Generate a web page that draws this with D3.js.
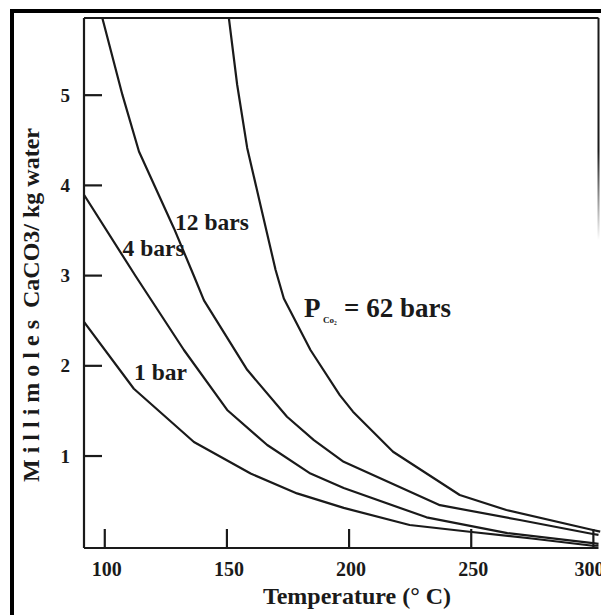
<!DOCTYPE html>
<html>
<head>
<meta charset="utf-8">
<script src="https://cdn.jsdelivr.net/npm/d3@7"></script>
<style>
  html, body { margin: 0; padding: 0; background: #fff; }
  svg { display: block; }
  text { font-family: "Liberation Serif", "Times New Roman", serif; font-weight: bold; fill: #1a1a1a; }
</style>
</head>
<body>
<svg id="chart" width="601" height="615"></svg>
<script>
// ---- data (Temperature °C, millimoles CaCO3 / kg water) ----
const xTicks = [100, 150, 200, 250, 300];
const yTicks = [1, 2, 3, 4, 5];

const bar1T   = [91.7, 112.1, 136.7, 159.9, 178.9, 198.0, 225.0, 249.5, 275.0, 300.0, 302.3];
const bar1V   = [2.48, 1.74, 1.15, 0.80, 0.58, 0.42, 0.23, 0.155, 0.08, 0.0, 0.0];

const bar4T   = [91.7, 112.8, 132.6, 150.3, 166.7, 184.4, 198.0, 231.9, 265.0, 300.0, 302.3];
const bar4V   = [3.89, 2.99, 2.17, 1.505, 1.117, 0.80, 0.64, 0.315, 0.14, 0.03, 0.02];

const bar12T  = [99.2, 107.4, 114.2, 128.5, 136.7, 140.8, 158.5, 174.8, 185.8, 198.0, 237.4, 270.1, 300.0, 302.3];
const bar12V  = [5.85, 5.0, 4.37, 3.52, 2.99, 2.72, 1.95, 1.43, 1.17, 0.93, 0.45, 0.285, 0.13, 0.12];

const bar62T  = [151.0, 154.4, 158.5, 163.9, 170.1, 173.5, 184.4, 196.4, 201.8, 218.2, 245.5, 264.6, 300.0, 303.0];
const bar62V  = [5.85, 5.11, 4.41, 3.78, 3.06, 2.74, 2.17, 1.67, 1.486, 1.042, 0.562, 0.396, 0.175, 0.156];

const seriesNames = ["1 bar", "4 bars", "12 bars", "62 bars"];

// ---- layout ----
const svg = d3.select("#chart");
const L = 84, R = 598.5, T = 18, B = 548;
const x = d3.scaleLinear().domain([91.7, 302.3]).range([L, R]);
const y = d3.scaleLinear().domain([-0.025, 5.85]).range([B, T]);
const ink = "#1a1a1a";

// outer frame
svg.append("line").attr("x1", 12).attr("x2", 12).attr("y1", 9).attr("y2", 615)
  .attr("stroke", "#000").attr("stroke-width", 4);
svg.append("line").attr("x1", 10).attr("x2", 601).attr("y1", 11).attr("y2", 11)
  .attr("stroke", "#000").attr("stroke-width", 4);

// plot top line and right edge
svg.append("line").attr("x1", L).attr("x2", R).attr("y1", T).attr("y2", T)
  .attr("stroke", ink).attr("stroke-width", 2);
const grad = svg.append("defs").append("linearGradient").attr("id", "fade")
  .attr("gradientUnits", "userSpaceOnUse").attr("x1", 0).attr("x2", 0).attr("y1", T).attr("y2", 240);
grad.append("stop").attr("offset", "0.6").attr("stop-color", ink).attr("stop-opacity", 1);
grad.append("stop").attr("offset", "1").attr("stop-color", ink).attr("stop-opacity", 0);
svg.append("rect").attr("x", R - 1).attr("y", T).attr("width", 2).attr("height", 240 - T)
  .attr("fill", "url(#fade)");

// axes
const xAxis = d3.axisBottom(x).tickValues(xTicks).tickFormat(d3.format("d"))
  .tickSizeInner(-19).tickSizeOuter(0).tickPadding(13.5);
const yAxis = d3.axisLeft(y).tickValues(yTicks).tickFormat(d3.format("d"))
  .tickSizeInner(-18).tickSizeOuter(0).tickPadding(14);

const gx = svg.append("g").attr("transform", `translate(0,${B})`).call(xAxis);
const gy = svg.append("g").attr("transform", `translate(${L},0)`).call(yAxis);
[gx, gy].forEach(g => {
  g.select(".domain").attr("stroke", ink).attr("stroke-width", 2.2);
  g.selectAll(".tick line").attr("stroke", ink).attr("stroke-width", 2.2);
  g.selectAll(".tick text").attr("fill", ink)
    .style("font-family", '"Liberation Serif", serif').style("font-weight", "bold");
});
gx.selectAll(".tick text").style("font-size", "20px").attr("dx", d => d === 300 ? -4 : 2);
gy.selectAll(".tick text").style("font-size", "19px").attr("dy", "0.34em");
gy.select(".domain").attr("d", `M0,${B}V${T}`);
gx.select(".domain").attr("d", `M${L},0H${R}`);

// curves
const series = [
  { name: seriesNames[0], t: bar1T, v: bar1V },
  { name: seriesNames[1], t: bar4T, v: bar4V },
  { name: seriesNames[2], t: bar12T, v: bar12V },
  { name: seriesNames[3], t: bar62T, v: bar62V }
];
const line = d3.line().x(d => x(d[0])).y(d => y(d[1])).curve(d3.curveLinear);
svg.append("defs").append("clipPath").attr("id", "clip")
  .append("rect").attr("x", L).attr("y", T).attr("width", 601 - L).attr("height", B - T);
svg.append("g").attr("clip-path", "url(#clip)")
  .selectAll("path").data(series).join("path")
  .attr("d", s => line(s.t.map((t, i) => [t, s.v[i]])))
  .attr("fill", "none").attr("stroke", ink).attr("stroke-width", 2.2)
  .attr("stroke-linejoin", "round");

// curve labels
svg.append("text").attr("x", 175).attr("y", 230).style("font-size", "23.5px").text("12 bars");
svg.append("text").attr("x", 122.5).attr("y", 256).style("font-size", "23.5px").text("4 bars");
svg.append("text").attr("x", 134).attr("y", 380).style("font-size", "23.5px").text("1 bar");

const p = svg.append("text").attr("x", 304).attr("y", 317).style("font-size", "27px");
p.append("tspan").text("P");
p.append("tspan").attr("x", 323).attr("y", 323).style("font-size", "9px").text("Co₂");
p.append("tspan").attr("x", 344).attr("y", 317).text("= 62 bars");

// axis titles
svg.append("text").attr("x", 357).attr("y", 604).attr("text-anchor", "middle")
  .style("font-size", "24px").text("Temperature (° C)");
svg.append("text")
  .attr("transform", "translate(39,305) rotate(-90)")
  .attr("text-anchor", "middle")
  .style("font-size", "24px").style("white-space", "pre")
  .text("M i l l i m o l e s  CaCO3/ kg water");
</script>
</body>
</html>
